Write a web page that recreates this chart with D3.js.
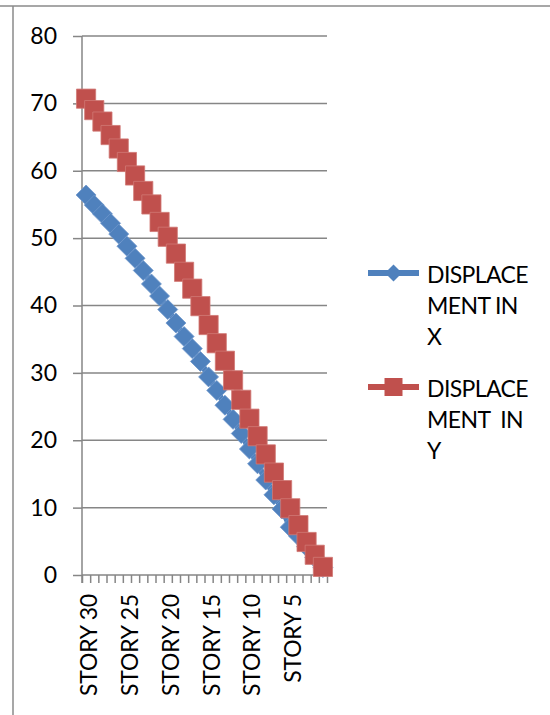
<!DOCTYPE html>
<html>
<head>
<meta charset="utf-8">
<script src="https://cdn.jsdelivr.net/npm/d3@7"></script>
<style>
  body { margin: 0; background: #fff; }
  svg { display: block; }
  text { font-family: Lato, "Open Sans", sans-serif; fill: #000; }
</style>
</head>
<body>
<svg id="chart" width="550" height="715"></svg>
<script>
// Storeys, top floor first
const stories = [
  "STORY 30", "STORY 29", "STORY 28", "STORY 27", "STORY 26", "STORY 25",
  "STORY 24", "STORY 23", "STORY 22", "STORY 21", "STORY 20", "STORY 19",
  "STORY 18", "STORY 17", "STORY 16", "STORY 15", "STORY 14", "STORY 13",
  "STORY 12", "STORY 11", "STORY 10", "STORY 9", "STORY 8", "STORY 7",
  "STORY 6", "STORY 5", "STORY 4", "STORY 3", "STORY 2", "STORY 1"
];

// Storey displacement in X direction
const displacementX = [
  56.4, 54.9, 53.6, 52.2, 50.6, 48.8, 47.0, 45.2, 43.2, 41.4,
  39.4, 37.4, 35.4, 33.6, 31.7, 29.4, 27.4, 25.2, 23.1, 21.0,
  18.7, 16.5, 14.1, 11.9, 9.8, 7.1, 5.8, 4.2, 2.6, 1.1
];

// Storey displacement in Y direction
const displacementY = [
  70.7, 69.0, 67.3, 65.3, 63.3, 61.3, 59.3, 57.0, 55.0, 52.4,
  50.2, 47.7, 45.0, 42.5, 39.9, 37.1, 34.4, 31.8, 28.9, 26.0,
  23.2, 20.6, 17.9, 15.2, 12.6, 9.9, 7.4, 4.9, 3.0, 1.2
];

const seriesNames = ["DISPLACEMENT IN X", "DISPLACEMENT  IN Y"];
const legendLines = [["DISPLACE", "MENT IN", "X"], ["DISPLACE", "MENT  IN", "Y"]];
const shownStoryLabels = ["STORY 30", "STORY 25", "STORY 20", "STORY 15", "STORY 10", "STORY 5"];
const yTicks = [0, 10, 20, 30, 40, 50, 60, 70, 80];

const colors = ["#4F81BD", "#C0504D"];
const edgeColors = ["#6E97CB", "#D07875"];
const axisColor = "#868686";

const svg = d3.select("#chart");

// Outer frame (top and left edges)
svg.append("line").attr("x1", 0).attr("x2", 550).attr("y1", 6).attr("y2", 6)
  .attr("stroke", "#8a8a8a").attr("stroke-width", 1.5);
svg.append("line").attr("x1", 13).attr("x2", 13).attr("y1", 6).attr("y2", 715)
  .attr("stroke", "#8a8a8a").attr("stroke-width", 1.5);

const plot = { left: 82, right: 327, top: 36, bottom: 575 };

const x = d3.scaleBand().domain(stories).range([plot.left, plot.right]);
const xEdge = d3.scaleLinear().domain([0, stories.length]).range([plot.left, plot.right]);
const y = d3.scaleLinear().domain([0, 80]).range([plot.bottom, plot.top]);

// Horizontal gridlines
svg.append("g").selectAll("line").data(yTicks).join("line")
  .attr("x1", plot.left).attr("x2", plot.right)
  .attr("y1", d => y(d)).attr("y2", d => y(d))
  .attr("stroke", axisColor).attr("stroke-width", 1.5);

// Value axis
const yAxis = svg.append("g")
  .attr("transform", `translate(${plot.left},0)`)
  .call(d3.axisLeft(y).tickValues(yTicks).tickSize(9).tickPadding(16));
yAxis.select(".domain").remove();
yAxis.selectAll(".tick line").attr("stroke", axisColor).attr("stroke-width", 1.5);
yAxis.selectAll(".tick text").style("font-size", "23px").style("font-family", "Lato, sans-serif")
  .attr("fill", "#000");

svg.append("line").attr("x1", plot.left).attr("x2", plot.left)
  .attr("y1", plot.top).attr("y2", plot.bottom + 8)
  .attr("stroke", axisColor).attr("stroke-width", 1.5);

// Category tick marks at storey boundaries
const xTicks = svg.append("g")
  .attr("transform", `translate(0,${plot.bottom})`)
  .call(d3.axisBottom(xEdge).tickValues(d3.range(0, stories.length + 1)).tickSize(8).tickFormat(""));
xTicks.select(".domain").remove();
xTicks.selectAll(".tick line").attr("stroke", axisColor).attr("stroke-width", 1.5);

// Category labels
const xAxis = svg.append("g")
  .attr("transform", `translate(0,${plot.bottom})`)
  .call(d3.axisBottom(x).tickValues(shownStoryLabels).tickSize(0));
xAxis.select(".domain").remove();
xAxis.selectAll(".tick text")
  .attr("transform", "rotate(-90)")
  .attr("x", -19).attr("y", 11).attr("dy", 0)
  .attr("text-anchor", "end")
  .style("font-size", "23px").style("font-family", "Lato, sans-serif")
  .style("letter-spacing", "-0.2px")
  .attr("fill", "#000");

// Series
const series = [displacementX, displacementY];
const diamond = r => `M0,${-r}L${r},0L0,${r}L${-r},0Z`;
const square = r => `M${-r},${-r}H${r}V${r}H${-r}Z`;
const markerShape = [diamond(10), square(9.6)];

series.forEach((vals, s) => {
  const g = svg.append("g");
  const pts = vals.map((v, i) => [x(stories[i]) + x.bandwidth() / 2, y(v)]);
  g.append("path")
    .attr("d", d3.line()(pts))
    .attr("fill", "none").attr("stroke", colors[s]).attr("stroke-width", 6)
    .attr("stroke-linejoin", "round");
  g.selectAll("path.m").data(pts).join("path").attr("class", "m")
    .attr("d", markerShape[s])
    .attr("transform", d => `translate(${d[0]},${d[1]})`)
    .attr("fill", colors[s])
    .attr("stroke", edgeColors[s]).attr("stroke-width", 0.8);
});

// Legend
const legendSymY = [273, 387];
const legendMarker = [diamond(8.5), square(9)];
series.forEach((vals, s) => {
  const g = svg.append("g").attr("class", "legend").attr("data-name", seriesNames[s]);
  g.append("line").attr("x1", 368).attr("x2", 419)
    .attr("y1", legendSymY[s]).attr("y2", legendSymY[s])
    .attr("stroke", colors[s]).attr("stroke-width", 6);
  g.append("path").attr("d", legendMarker[s])
    .attr("transform", `translate(393.5,${legendSymY[s]})`)
    .attr("fill", colors[s]);
  g.selectAll("text").data(legendLines[s]).join("text")
    .attr("x", 427)
    .attr("y", (d, i) => legendSymY[s] + 10 + i * 31)
    .style("font-size", "23px")
    .style("letter-spacing", "-0.6px")
    .style("white-space", "pre")
    .text(d => d);
});
</script>
</body>
</html>
